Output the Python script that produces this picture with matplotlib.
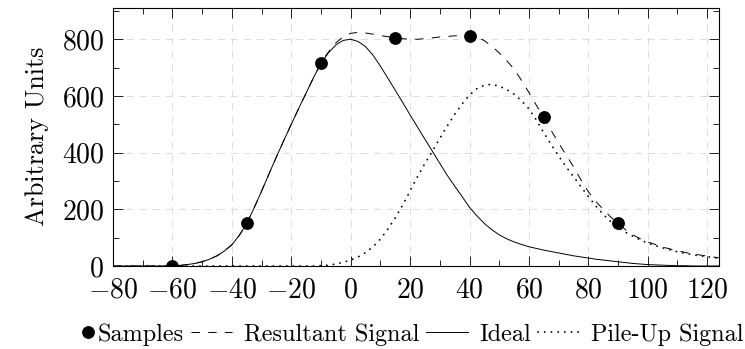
import matplotlib
matplotlib.use("Agg")
import matplotlib.pyplot as plt
from matplotlib.ticker import MultipleLocator
from matplotlib.legend_handler import HandlerLine2D

plt.rcParams['font.family'] = ['cmr10']
plt.rcParams['mathtext.fontset'] = 'cm'
plt.rcParams['axes.formatter.use_mathtext'] = True

# curve values (x step 2.5, last point at 124)
x_vals = [-80, -77.5, -75, -72.5, -70, -67.5, -65, -62.5, -60, -57.5, -55, -52.5, -50, -47.5, -45, -42.5,
          -40, -37.5, -35, -32.5, -30, -27.5, -25, -22.5, -20, -17.5, -15, -12.5, -10, -7.5, -5, -2.5,
          0, 2.5, 5, 7.5, 10, 12.5, 15, 17.5, 20, 22.5, 25, 27.5, 30, 32.5, 35, 37.5,
          40, 42.5, 45, 47.5, 50, 52.5, 55, 57.5, 60, 62.5, 65, 67.5, 70, 72.5, 75, 77.5,
          80, 82.5, 85, 87.5, 90, 92.5, 95, 97.5, 100, 102.5, 105, 107.5, 110, 112.5, 115, 117.5,
          120, 124]
ideal = [0, 0, 0, 0, 0, 0, 0, 0, 0.5, 2, 5, 9, 15, 24, 36, 53,
         75, 108, 150, 205, 264, 325, 385, 443, 500, 556, 610, 665, 715, 752, 780, 796,
         800, 792, 774, 744, 705, 663, 620, 577, 533, 490, 447, 405, 362, 320, 282, 245,
         207, 177, 150, 128, 110, 96, 85, 76, 68, 62, 56, 51, 46, 41, 36, 32,
         28, 24, 21, 18, 15, 12, 9, 7, 5, 4, 3, 2, 1, 1, 0, 0,
         0, 0]
pileup = [0, 0, 0, 0, 0, 0, 0, 0, 0, 0, 0, 0, 0, 0, 0, 0,
          0, 0, 0, 0, 0, 0, 0, 0, 0, 0, 0, 0, 1, 3, 7, 13,
          21, 32, 47, 68, 95, 130, 170, 215, 265, 315, 362, 405, 450, 494, 535, 572,
          603, 626, 638, 641, 634, 623, 606, 583, 555, 515, 470, 428, 388, 350, 315, 280,
          245, 212, 182, 157, 136, 119, 105, 92, 81, 72, 64, 57, 50, 45, 40, 36,
          33, 27]
resultant = [0, 0, 0, 0, 0, 0, 0, 0, 0.5, 2, 5, 9, 15, 24, 36, 53,
             75, 108, 150, 205, 264, 325, 385, 443, 500, 556, 610, 665, 717, 755, 787, 809,
             821, 824, 822, 818, 813, 809, 805, 802, 800, 800, 802, 805, 808, 810, 812, 813,
             813, 808, 795, 775, 752, 725, 695, 655, 612, 567, 523, 478, 434, 392, 350, 304,
             262, 228, 200, 173, 150, 128, 110, 96, 85, 76, 67, 60, 54, 48, 43, 39,
             35, 29]

# sample points
sample_x = [-60, -35, -10, 15, 40, 65, 90]
sample_y = [0, 150, 715, 806, 813, 525, 150]


# legend handler that puts the dot right next to its label
class DotHandler(HandlerLine2D):
    def get_xdata(self, legend, xdescent, ydescent, width, height, fontsize):
        c = width - xdescent + 1.5
        return [c - 0.5, c + 0.5], [c]


fig = plt.figure(figsize=(7.45, 3.49), dpi=100)
ax = fig.add_axes([0.1517, 0.2378, 0.8135, 0.7407])

dots, = ax.plot(sample_x, sample_y, 'o', color='black', markersize=8.2, label='Samples', zorder=5)
ax.plot(x_vals, resultant, color='black', lw=0.7, dashes=(8.6, 8.6), label='Resultant Signal')
ax.plot(x_vals, ideal, color='black', lw=0.7, label='Ideal')
ax.plot(x_vals, pileup, color='black', lw=1.3, linestyle=(0, (0.1, 3.6)),
        dash_capstyle='round', label='Pile-Up Signal')

ax.set_xlim(-80, 124)
ax.set_ylim(0, 912)
ax.xaxis.set_major_locator(MultipleLocator(20))
ax.xaxis.set_minor_locator(MultipleLocator(10))
ax.yaxis.set_major_locator(MultipleLocator(200))
ax.yaxis.set_minor_locator(MultipleLocator(100))
ax.tick_params(which='both', direction='in', top=True, right=True, width=0.6, labelsize=20)
ax.tick_params(which='major', length=7)
ax.tick_params(which='minor', length=4.5)
ax.tick_params(axis='x', which='major', pad=8)
ax.tick_params(axis='y', which='major', pad=6.3)

ax.grid(True, which='major', color='#dcdcdc', linestyle=(0, (7.2, 6.2)), lw=0.7)
ax.set_axisbelow(True)
for s in ax.spines.values():
    s.set_linewidth(0.8)

ax.set_ylabel('Arbitrary Units', fontsize=18.8, labelpad=9)

handles, labels = ax.get_legend_handles_labels()
fig.legend(handles, labels, loc='center', bbox_to_anchor=(0.529, 0.042),
           bbox_transform=fig.transFigure, ncol=4, frameon=False,
           fontsize=17.4, handlelength=1.73, handletextpad=0.48, columnspacing=0.28,
           borderpad=0, borderaxespad=0,
           handler_map={dots: DotHandler(numpoints=1)})

fig.savefig('out.png', dpi=100)
